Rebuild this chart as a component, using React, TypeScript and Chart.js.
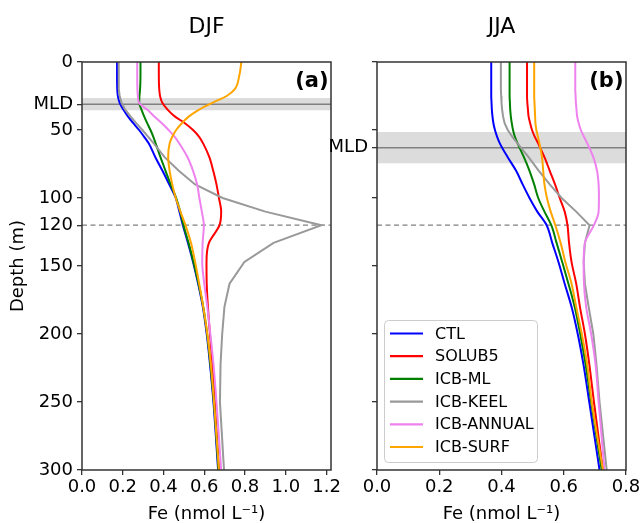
import React, { useEffect, useRef } from 'react';
import { Chart, registerables } from 'chart.js';

Chart.register(...registerables);
Chart.defaults.font.family = '"DejaVu Sans", "Liberation Sans", sans-serif';
Chart.defaults.color = '#000';

// ---------- data ----------
const DEPTH = [0, 10, 20, 25, 30, 35, 40, 45, 50, 55, 60, 70, 80, 90, 100, 110, 120, 133, 147, 163, 180, 200, 222, 250, 300];

const SERIES_NAMES = ['CTL', 'SOLUB5', 'ICB-ML', 'ICB-KEEL', 'ICB-ANNUAL', 'ICB-SURF'];
const SERIES_COLORS = ['#0000ff', '#ff0000', '#008000', '#999999', '#ee82ee', '#ffa500'];

// DJF (panel a)
const DJF_CTL = [0.172, 0.172, 0.173, 0.176, 0.185, 0.203, 0.225, 0.252, 0.280, 0.305, 0.328, 0.360, 0.395, 0.428, 0.460, 0.478, 0.495, 0.520, 0.545, 0.570, 0.593, 0.612, 0.628, 0.645, 0.668];
const DJF_SOLUB5 = [0.377, 0.377, 0.379, 0.383, 0.394, 0.420, 0.455, 0.505, 0.545, 0.575, 0.595, 0.625, 0.644, 0.660, 0.672, 0.683, 0.675, 0.623, 0.611, 0.612, 0.618, 0.628, 0.640, 0.652, 0.672];
const DJF_ICB_ML = [0.287, 0.287, 0.285, 0.282, 0.281, 0.292, 0.305, 0.320, 0.336, 0.350, 0.362, 0.385, 0.410, 0.435, 0.462, 0.482, 0.498, 0.523, 0.547, 0.572, 0.595, 0.614, 0.630, 0.647, 0.670];
const DJF_ICB_KEEL = [0.180, 0.180, 0.181, 0.185, 0.194, 0.212, 0.238, 0.266, 0.296, 0.325, 0.353, 0.405, 0.475, 0.555, 0.690, 0.900, 1.175, 0.940, 0.797, 0.724, 0.699, 0.688, 0.680, 0.677, 0.697];
const DJF_ICB_ANNUAL = [0.271, 0.271, 0.272, 0.274, 0.280, 0.320, 0.355, 0.392, 0.425, 0.455, 0.478, 0.518, 0.545, 0.565, 0.576, 0.588, 0.598, 0.592, 0.590, 0.600, 0.615, 0.630, 0.645, 0.660, 0.683];
const DJF_ICB_SURF = [0.782, 0.772, 0.750, 0.710, 0.640, 0.575, 0.525, 0.490, 0.462, 0.443, 0.430, 0.423, 0.430, 0.443, 0.460, 0.483, 0.508, 0.535, 0.555, 0.575, 0.595, 0.615, 0.632, 0.648, 0.672];

// JJA (panel b)
const JJA_CTL = [0.367, 0.367, 0.367, 0.367, 0.368, 0.369, 0.371, 0.374, 0.379, 0.386, 0.395, 0.420, 0.447, 0.468, 0.490, 0.515, 0.545, 0.563, 0.583, 0.603, 0.625, 0.645, 0.663, 0.682, 0.715];
const JJA_SOLUB5 = [0.482, 0.482, 0.482, 0.482, 0.483, 0.485, 0.487, 0.492, 0.498, 0.507, 0.518, 0.538, 0.555, 0.572, 0.587, 0.603, 0.612, 0.617, 0.625, 0.640, 0.652, 0.668, 0.682, 0.697, 0.726];
const JJA_ICB_ML = [0.426, 0.426, 0.426, 0.426, 0.427, 0.428, 0.430, 0.433, 0.437, 0.443, 0.452, 0.472, 0.490, 0.505, 0.518, 0.538, 0.560, 0.577, 0.595, 0.615, 0.635, 0.653, 0.670, 0.688, 0.722];
const JJA_ICB_KEEL = [0.398, 0.398, 0.398, 0.399, 0.400, 0.402, 0.405, 0.410, 0.420, 0.435, 0.452, 0.487, 0.520, 0.555, 0.593, 0.640, 0.683, 0.668, 0.664, 0.668, 0.680, 0.695, 0.705, 0.715, 0.738];
const JJA_ICB_ANNUAL = [0.637, 0.637, 0.637, 0.638, 0.639, 0.641, 0.643, 0.648, 0.655, 0.665, 0.676, 0.695, 0.707, 0.712, 0.713, 0.712, 0.697, 0.668, 0.664, 0.665, 0.672, 0.688, 0.702, 0.712, 0.731];
const JJA_ICB_SURF = [0.505, 0.505, 0.505, 0.505, 0.506, 0.507, 0.508, 0.509, 0.512, 0.517, 0.522, 0.530, 0.534, 0.538, 0.546, 0.558, 0.573, 0.590, 0.605, 0.625, 0.640, 0.658, 0.675, 0.690, 0.726];

// mixed-layer depth, its range, and keel depth
const MLD_DJF = 31;
const MLD_BAND_DJF = [26.5, 35.5];
const MLD_JJA = 63;
const MLD_BAND_JJA = [51.5, 74.5];
const KEEL_DEPTH = 120;

// ticks
const X_TICKS_DJF = [0, 0.2, 0.4, 0.6, 0.8, 1.0, 1.2];
const X_MAX_DJF = 1.222;
const X_TICKS_JJA = [0, 0.2, 0.4, 0.6, 0.8];
const X_MAX_JJA = 0.8;
const Y_TICKS_DJF = [0, MLD_DJF, 50, 100, 120, 150, 200, 250, 300];
const Y_TICKS_JJA = [0, 50, MLD_JJA, 100, 150, 200, 250, 300];
const Y_MAX = 300;

const X_TITLE = 'Fe (nmol L\u207B\u00B9)';
const Y_TITLE = 'Depth (m)';

const FRAME = '#333333';

const decorPlugin = {
  id: 'panelDecor',
  beforeDatasetsDraw(chart: any, _args: any, opts: any) {
    const { ctx, chartArea: a, scales } = chart;
    const y = scales.y;
    ctx.save();
    const b0 = y.getPixelForValue(opts.band[0]);
    const b1 = y.getPixelForValue(opts.band[1]);
    ctx.fillStyle = '#dcdcdc';
    ctx.fillRect(a.left, b0, a.right - a.left, b1 - b0);
    const m = y.getPixelForValue(opts.mld);
    ctx.strokeStyle = '#808080';
    ctx.lineWidth = 1.5;
    ctx.beginPath();
    ctx.moveTo(a.left, m);
    ctx.lineTo(a.right, m);
    ctx.stroke();
    const k = y.getPixelForValue(opts.keel);
    ctx.setLineDash([5, 3.5]);
    ctx.lineWidth = 1.2;
    ctx.beginPath();
    ctx.moveTo(a.left, k);
    ctx.lineTo(a.right, k);
    ctx.stroke();
    ctx.restore();
  },
  afterDatasetsDraw(chart: any, _args: any, opts: any) {
    const { ctx, chartArea: a } = chart;
    ctx.save();
    // frame
    ctx.strokeStyle = FRAME;
    ctx.lineWidth = 1.5;
    ctx.strokeRect(a.left, a.top, a.right - a.left, a.bottom - a.top);
    // title
    ctx.fillStyle = '#000';
    ctx.font = '22px "DejaVu Sans"';
    ctx.textAlign = 'center';
    ctx.textBaseline = 'alphabetic';
    ctx.fillText(opts.title, (a.left + a.right) / 2, 33);
    // panel tag
    ctx.font = 'bold 21px "DejaVu Sans"';
    ctx.textAlign = 'right';
    ctx.fillText(opts.tag, a.right - 2.5, a.top + 25);
    // legend
    if (opts.legend) {
      const ds = chart.data.datasets;
      const w = 153;
      const h = 142;
      const lx = a.left + 7;
      const ly = a.bottom - 8 - h;
      ctx.fillStyle = 'rgba(255,255,255,0.8)';
      ctx.strokeStyle = '#cccccc';
      ctx.lineWidth = 1;
      ctx.beginPath();
      ctx.roundRect(lx + 0.5, ly + 0.5, w, h, 4);
      ctx.fill();
      ctx.stroke();
      ctx.font = '16px "DejaVu Sans"';
      ctx.textAlign = 'left';
      ctx.textBaseline = 'middle';
      ds.forEach((d: any, i: number) => {
        const cy = ly + 13.5 + i * 22.7;
        ctx.strokeStyle = d.borderColor;
        ctx.lineWidth = 2.2;
        ctx.beginPath();
        ctx.moveTo(lx + 6, cy);
        ctx.lineTo(lx + 39, cy);
        ctx.stroke();
        ctx.fillStyle = '#000';
        ctx.fillText(d.label, lx + 51, cy + 1);
      });
    }
    ctx.restore();
  },
};

type PanelSpec = {
  values: number[][];
  xTicks: number[];
  xMax: number;
  yTicks: number[];
  yLabels: string[];
  yWidth: number;
  padRight: number;
  showYTitle: boolean;
  title: string;
  tag: string;
  mld: number;
  band: number[];
  legend: boolean;
};

function makeChart(canvas: HTMLCanvasElement, p: PanelSpec) {
  const n = SERIES_NAMES.length;
  return new Chart(canvas, {
    type: 'line',
    data: {
      datasets: p.values.map((vals, i) => ({
        label: SERIES_NAMES[i],
        data: DEPTH.map((d, k) => ({ x: vals[k], y: d })),
        borderColor: SERIES_COLORS[i],
        backgroundColor: SERIES_COLORS[i],
        borderWidth: 2,
        pointRadius: 0,
        fill: false,
        tension: 0,
        cubicInterpolationMode: SERIES_NAMES[i] === 'ICB-KEEL' ? 'default' : 'monotone',
        order: n - i,
      })),
    },
    options: {
      responsive: false,
      animation: false,
      indexAxis: 'y',
      events: [],
      layout: { padding: { left: 0, right: p.padRight, top: 62, bottom: 0 } },
      plugins: {
        legend: { display: false },
        tooltip: { enabled: false },
        title: { display: false },
        panelDecor: {
          title: p.title,
          tag: p.tag,
          mld: p.mld,
          band: p.band,
          keel: KEEL_DEPTH,
          legend: p.legend,
        },
      } as any,
      scales: {
        x: {
          type: 'linear',
          min: 0,
          max: p.xMax,
          afterBuildTicks: (s: any) => {
            s.ticks = p.xTicks.map((v) => ({ value: v }));
          },
          afterFit: (s: any) => {
            s.height = 53;
          },
          ticks: {
            autoSkip: false,
            maxRotation: 0,
            padding: 2,
            color: '#000',
            font: { size: 18 },
            callback: (v: any) => Number(v).toFixed(1),
          },
          grid: { drawOnChartArea: false, drawTicks: true, tickLength: 5, color: FRAME, lineWidth: 1.3 },
          border: { display: false },
          title: {
            display: true,
            text: X_TITLE,
            color: '#000',
            font: { size: 18, lineHeight: 1 },
            padding: { top: 0, bottom: 0 },
          },
        },
        y: {
          type: 'linear',
          reverse: true,
          min: 0,
          max: Y_MAX,
          afterBuildTicks: (s: any) => {
            s.ticks = p.yTicks.map((v) => ({ value: v }));
          },
          afterFit: (s: any) => {
            s.width = p.yWidth;
          },
          ticks: {
            autoSkip: false,
            padding: 4,
            color: '#000',
            font: { size: 18 },
            callback: (_v: any, i: number) => p.yLabels[i],
          },
          grid: { drawOnChartArea: false, drawTicks: true, tickLength: 5, color: FRAME, lineWidth: 1.3 },
          border: { display: false },
          title: {
            display: p.showYTitle,
            text: Y_TITLE,
            color: '#000',
            font: { size: 18 },
            padding: { top: 8, bottom: 0 },
          },
        },
      },
    } as any,
    plugins: [decorPlugin as any],
  });
}

export default function App() {
  const leftRef = useRef<HTMLCanvasElement>(null);
  const rightRef = useRef<HTMLCanvasElement>(null);

  useEffect(() => {
    const left = makeChart(leftRef.current!, {
      values: [DJF_CTL, DJF_SOLUB5, DJF_ICB_ML, DJF_ICB_KEEL, DJF_ICB_ANNUAL, DJF_ICB_SURF],
      xTicks: X_TICKS_DJF,
      xMax: X_MAX_DJF,
      yTicks: Y_TICKS_DJF,
      yLabels: Y_TICKS_DJF.map((v) => (v === MLD_DJF ? 'MLD' : String(v))),
      yWidth: 82,
      padRight: 14,
      showYTitle: true,
      title: 'DJF',
      tag: '(a)',
      mld: MLD_DJF,
      band: MLD_BAND_DJF,
      legend: false,
    });
    const right = makeChart(rightRef.current!, {
      values: [JJA_CTL, JJA_SOLUB5, JJA_ICB_ML, JJA_ICB_KEEL, JJA_ICB_ANNUAL, JJA_ICB_SURF],
      xTicks: X_TICKS_JJA,
      xMax: X_MAX_JJA,
      yTicks: Y_TICKS_JJA,
      yLabels: Y_TICKS_JJA.map((v) => (v === MLD_JJA ? 'MLD' : '')),
      yWidth: 49,
      padRight: 17,
      showYTitle: false,
      title: 'JJA',
      tag: '(b)',
      mld: MLD_JJA,
      band: MLD_BAND_JJA,
      legend: true,
    });
    return () => {
      left.destroy();
      right.destroy();
    };
  }, []);

  return (
    <div style={{ position: 'absolute', left: 0, top: 0, width: 643, height: 523, background: '#fff', overflow: 'hidden' }}>
      <canvas ref={leftRef} width={345} height={523} style={{ position: 'absolute', left: 0, top: 0, width: 345, height: 523 }} />
      <canvas ref={rightRef} width={315} height={523} style={{ position: 'absolute', left: 328, top: 0, width: 315, height: 523 }} />
    </div>
  );
}
